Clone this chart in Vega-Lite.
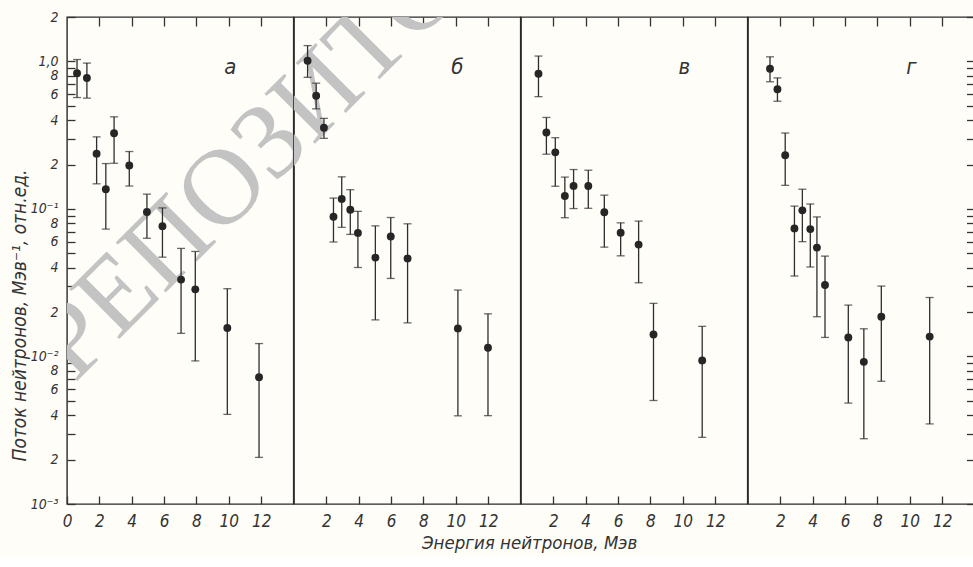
{
  "$schema": "https://vega.github.io/schema/vega-lite/v6.json",
  "background": "#fefdf8",
  "padding": {"left": 9, "top": 9, "right": 0, "bottom": 4},
  "bounds": "flush",
  "spacing": 0,
  "config": {
    "view": {"stroke": "#2a2a2a", "strokeWidth": 1.4},
    "axis": {"grid": false, "domain": false, "labelColor": "#333333", "tickColor": "#333333", "tickWidth": 1.3, "labelFont": "'Liberation Sans Narrow', 'DejaVu Sans Condensed', 'Liberation Sans', sans-serif", "labelFontSize": 17, "labelFontStyle": "italic", "labelFlush": false, "labelOverlap": false}
  },
  "title": {"text": "Энергия нейтронов, Мэв", "orient": "bottom", "anchor": "middle", "frame": "bounds", "dx": 37, "offset": 4, "font": "'Liberation Sans Narrow', 'DejaVu Sans Condensed', 'Liberation Sans', sans-serif", "fontSize": 18.5, "fontStyle": "italic", "fontWeight": "normal", "color": "#333333"},
  "datasets": {
    "pts": [
      {"p": "а", "E": 0.62, "v": 0.832, "lo": 0.569, "hi": 1.03},
      {"p": "а", "E": 1.23, "v": 0.772, "lo": 0.564, "hi": 0.974},
      {"p": "а", "E": 1.83, "v": 0.237, "lo": 0.148, "hi": 0.308},
      {"p": "а", "E": 2.40, "v": 0.136, "lo": 0.073, "hi": 0.203},
      {"p": "а", "E": 2.91, "v": 0.326, "lo": 0.204, "hi": 0.421},
      {"p": "а", "E": 3.85, "v": 0.197, "lo": 0.143, "hi": 0.245},
      {"p": "а", "E": 4.94, "v": 0.0954, "lo": 0.0633, "hi": 0.126},
      {"p": "а", "E": 5.90, "v": 0.0764, "lo": 0.0471, "hi": 0.1016},
      {"p": "а", "E": 7.05, "v": 0.0332, "lo": 0.01435, "hi": 0.054},
      {"p": "а", "E": 7.93, "v": 0.0285, "lo": 0.00933, "hi": 0.0515},
      {"p": "а", "E": 9.91, "v": 0.0156, "lo": 0.00405, "hi": 0.0288},
      {"p": "а", "E": 11.87, "v": 0.00724, "lo": 0.00207, "hi": 0.01223},
      {"p": "б", "E": 0.84, "v": 1.01, "lo": 0.78, "hi": 1.28},
      {"p": "б", "E": 1.37, "v": 0.585, "lo": 0.477, "hi": 0.712},
      {"p": "б", "E": 1.85, "v": 0.355, "lo": 0.301, "hi": 0.411},
      {"p": "б", "E": 2.44, "v": 0.0885, "lo": 0.0597, "hi": 0.1185},
      {"p": "б", "E": 2.95, "v": 0.117, "lo": 0.075, "hi": 0.165},
      {"p": "б", "E": 3.48, "v": 0.0988, "lo": 0.0672, "hi": 0.135},
      {"p": "б", "E": 3.95, "v": 0.0688, "lo": 0.0401, "hi": 0.0963},
      {"p": "б", "E": 5.03, "v": 0.0468, "lo": 0.0177, "hi": 0.0768},
      {"p": "б", "E": 5.98, "v": 0.065, "lo": 0.0338, "hi": 0.0875},
      {"p": "б", "E": 7.02, "v": 0.0462, "lo": 0.0169, "hi": 0.0793},
      {"p": "б", "E": 10.13, "v": 0.0155, "lo": 0.00396, "hi": 0.0282},
      {"p": "б", "E": 11.99, "v": 0.01145, "lo": 0.00397, "hi": 0.01946},
      {"p": "в", "E": 1.08, "v": 0.825, "lo": 0.577, "hi": 1.087},
      {"p": "в", "E": 1.57, "v": 0.33, "lo": 0.235, "hi": 0.417},
      {"p": "в", "E": 2.12, "v": 0.242, "lo": 0.1425, "hi": 0.304},
      {"p": "в", "E": 2.71, "v": 0.1223, "lo": 0.0872, "hi": 0.1644},
      {"p": "в", "E": 3.25, "v": 0.1433, "lo": 0.1006, "hi": 0.185},
      {"p": "в", "E": 4.16, "v": 0.143, "lo": 0.101, "hi": 0.183},
      {"p": "в", "E": 5.15, "v": 0.095, "lo": 0.0551, "hi": 0.124},
      {"p": "в", "E": 6.16, "v": 0.0689, "lo": 0.0481, "hi": 0.0805},
      {"p": "в", "E": 7.27, "v": 0.0573, "lo": 0.0316, "hi": 0.0827},
      {"p": "в", "E": 8.19, "v": 0.0141, "lo": 0.00503, "hi": 0.0229},
      {"p": "в", "E": 11.2, "v": 0.0094, "lo": 0.00283, "hi": 0.016},
      {"p": "г", "E": 1.36, "v": 0.891, "lo": 0.728, "hi": 1.074},
      {"p": "г", "E": 1.82, "v": 0.647, "lo": 0.537, "hi": 0.773},
      {"p": "г", "E": 2.30, "v": 0.231, "lo": 0.1445, "hi": 0.327},
      {"p": "г", "E": 2.87, "v": 0.0738, "lo": 0.0351, "hi": 0.1045},
      {"p": "г", "E": 3.36, "v": 0.0978, "lo": 0.06, "hi": 0.136},
      {"p": "г", "E": 3.85, "v": 0.073, "lo": 0.0404, "hi": 0.108},
      {"p": "г", "E": 4.26, "v": 0.0547, "lo": 0.0186, "hi": 0.0883},
      {"p": "г", "E": 4.76, "v": 0.0305, "lo": 0.01346, "hi": 0.0479},
      {"p": "г", "E": 6.2, "v": 0.01345, "lo": 0.00483, "hi": 0.0223},
      {"p": "г", "E": 7.16, "v": 0.0092, "lo": 0.00277, "hi": 0.0154},
      {"p": "г", "E": 8.24, "v": 0.0186, "lo": 0.00679, "hi": 0.03},
      {"p": "г", "E": 11.23, "v": 0.01364, "lo": 0.00349, "hi": 0.0251}
    ],
    "labels": [{"p": "а"}, {"p": "б"}, {"p": "в"}, {"p": "г"}],
    "wm": [{"t": "РЕПОЗИТОРИЙ"}]
  },
  "hconcat": [
    {
      "width": 226.5, "height": 487,
      "resolve": {"axis": {"x": "independent", "y": "independent"}},
      "layer": [
        {
          "data": {"name": "wm"},
          "mark": {"type": "text", "clip": true, "angle": 315, "font": "Liberation Serif", "fontSize": 108, "color": "#c3c3c3", "align": "center", "baseline": "middle"},
          "encoding": {
            "x": {"datum": 15.95, "type": "quantitative", "scale": {"domain": [0, 14], "nice": false, "zero": false}, "axis": null},
            "y": {"datum": 0.661, "type": "quantitative", "scale": {"type": "log", "domain": [0.001, 2], "nice": false}, "axis": null},
            "text": {"field": "t"}
          }
        },
        {
          "data": {"name": "pts"},
          "transform": [{"filter": "datum.p == 'а'"}],
          "mark": {"type": "errorbar", "color": "#2e2e2e", "thickness": 1.3, "ticks": {"size": 8}},
          "encoding": {
            "x": {"field": "E", "type": "quantitative", "scale": {"domain": [0, 14], "nice": false, "zero": false}, "axis": null},
            "y": {"field": "lo", "type": "quantitative", "scale": {"type": "log", "domain": [0.001, 2], "nice": false}, "axis": null},
            "y2": {"field": "hi"}
          }
        },
        {
          "data": {"name": "pts"},
          "transform": [{"filter": "datum.p == 'а'"}],
          "mark": {"type": "circle", "size": 62, "color": "#262626", "opacity": 1},
          "encoding": {
            "x": {"field": "E", "type": "quantitative", "scale": {"domain": [0, 14], "nice": false, "zero": false},
                  "axis": {"orient": "bottom", "values": [0, 2, 4, 6, 8, 10, 12], "title": null, "tickSize": -8, "labelPadding": 17, "format": "d"}},
            "y": {"field": "v", "type": "quantitative", "scale": {"type": "log", "domain": [0.001, 2], "nice": false},
                  "axis": {"orient": "left", "values": [0.001, 0.002, 0.003, 0.004, 0.005, 0.006, 0.007, 0.008, 0.009, 0.01, 0.02, 0.03, 0.04, 0.05, 0.06, 0.07, 0.08, 0.09, 0.1, 0.2, 0.3, 0.4, 0.5, 0.6, 0.7, 0.8, 0.9, 1, 2],
                    "labelExpr": "abs(datum.value-1)<1e-6 ? '1,0' : abs(datum.value-0.1)<1e-7 ? '10⁻¹' : abs(datum.value-0.01)<1e-8 ? '10⁻²' : abs(datum.value-0.001)<1e-9 ? '10⁻³' : (round(datum.value/pow(10,floor(log(datum.value)/LN10+1e-6))) % 2 == 0 ? '' + round(datum.value/pow(10,floor(log(datum.value)/LN10+1e-6))) : '')",
                    "tickSize": -8, "labelPadding": 17, "labelFontSize": 14,
                    "title": "Поток нейтронов, Мэв⁻¹, отн.ед.", "titleX": -48, "titleY": 298, "titleAngle": 270, "titleAlign": "center", "titleBaseline": "middle",
                    "titleFont": "'Liberation Sans Narrow', 'DejaVu Sans Condensed', 'Liberation Sans', sans-serif", "titleFontSize": 19, "titleFontStyle": "italic", "titleFontWeight": "normal", "titleColor": "#333333"}}
          }
        },
        {
          "data": {"name": "labels"},
          "transform": [{"filter": "datum.p == 'а'"}],
          "mark": {"type": "text", "font": "'Liberation Sans Narrow', 'DejaVu Sans Condensed', 'Liberation Sans', sans-serif", "fontSize": 22, "fontStyle": "italic", "color": "#333333", "align": "center", "baseline": "middle"},
          "encoding": {
            "x": {"datum": 10.1, "type": "quantitative", "scale": {"domain": [0, 14], "nice": false, "zero": false},
                  "axis": {"orient": "top", "values": [2, 4, 6, 8, 10, 12], "labels": false, "title": null, "tickSize": -9}},
            "y": {"datum": 0.92, "type": "quantitative", "scale": {"type": "log", "domain": [0.001, 2], "nice": false}, "axis": null},
            "text": {"field": "p"}
          }
        }
      ]
    },
    {
      "width": 226.5, "height": 487,
      "resolve": {"axis": {"x": "independent", "y": "independent"}},
      "layer": [
        {
          "data": {"name": "wm"},
          "mark": {"type": "text", "clip": true, "angle": 315, "font": "Liberation Serif", "fontSize": 108, "color": "#c3c3c3", "align": "center", "baseline": "middle"},
          "encoding": {
            "x": {"datum": 1.95, "type": "quantitative", "scale": {"domain": [0, 14], "nice": false, "zero": false}, "axis": null},
            "y": {"datum": 0.661, "type": "quantitative", "scale": {"type": "log", "domain": [0.001, 2], "nice": false}, "axis": null},
            "text": {"field": "t"}
          }
        },
        {
          "data": {"name": "pts"},
          "transform": [{"filter": "datum.p == 'б'"}],
          "mark": {"type": "errorbar", "color": "#2e2e2e", "thickness": 1.3, "ticks": {"size": 8}},
          "encoding": {
            "x": {"field": "E", "type": "quantitative", "scale": {"domain": [0, 14], "nice": false, "zero": false}, "axis": null},
            "y": {"field": "lo", "type": "quantitative", "scale": {"type": "log", "domain": [0.001, 2], "nice": false}, "axis": null},
            "y2": {"field": "hi"}
          }
        },
        {
          "data": {"name": "pts"},
          "transform": [{"filter": "datum.p == 'б'"}],
          "mark": {"type": "circle", "size": 62, "color": "#262626", "opacity": 1},
          "encoding": {
            "x": {"field": "E", "type": "quantitative", "scale": {"domain": [0, 14], "nice": false, "zero": false},
                  "axis": {"orient": "bottom", "values": [2, 4, 6, 8, 10, 12], "title": null, "tickSize": -8, "labelPadding": 17, "format": "d"}},
            "y": {"field": "v", "type": "quantitative", "scale": {"type": "log", "domain": [0.001, 2], "nice": false}, "axis": null}
          }
        },
        {
          "data": {"name": "labels"},
          "transform": [{"filter": "datum.p == 'б'"}],
          "mark": {"type": "text", "font": "'Liberation Sans Narrow', 'DejaVu Sans Condensed', 'Liberation Sans', sans-serif", "fontSize": 22, "fontStyle": "italic", "color": "#333333", "align": "center", "baseline": "middle"},
          "encoding": {
            "x": {"datum": 10.1, "type": "quantitative", "scale": {"domain": [0, 14], "nice": false, "zero": false},
                  "axis": {"orient": "top", "values": [2, 4, 6, 8, 10, 12], "labels": false, "title": null, "tickSize": -9}},
            "y": {"datum": 0.92, "type": "quantitative", "scale": {"type": "log", "domain": [0.001, 2], "nice": false}, "axis": null},
            "text": {"field": "p"}
          }
        }
      ]
    },
    {
      "width": 226.5, "height": 487,
      "resolve": {"axis": {"x": "independent", "y": "independent"}},
      "layer": [
        {
          "data": {"name": "pts"},
          "transform": [{"filter": "datum.p == 'в'"}],
          "mark": {"type": "errorbar", "color": "#2e2e2e", "thickness": 1.3, "ticks": {"size": 8}},
          "encoding": {
            "x": {"field": "E", "type": "quantitative", "scale": {"domain": [0, 14], "nice": false, "zero": false}, "axis": null},
            "y": {"field": "lo", "type": "quantitative", "scale": {"type": "log", "domain": [0.001, 2], "nice": false}, "axis": null},
            "y2": {"field": "hi"}
          }
        },
        {
          "data": {"name": "pts"},
          "transform": [{"filter": "datum.p == 'в'"}],
          "mark": {"type": "circle", "size": 62, "color": "#262626", "opacity": 1},
          "encoding": {
            "x": {"field": "E", "type": "quantitative", "scale": {"domain": [0, 14], "nice": false, "zero": false},
                  "axis": {"orient": "bottom", "values": [2, 4, 6, 8, 10, 12], "title": null, "tickSize": -8, "labelPadding": 17, "format": "d"}},
            "y": {"field": "v", "type": "quantitative", "scale": {"type": "log", "domain": [0.001, 2], "nice": false}, "axis": null}
          }
        },
        {
          "data": {"name": "labels"},
          "transform": [{"filter": "datum.p == 'в'"}],
          "mark": {"type": "text", "font": "'Liberation Sans Narrow', 'DejaVu Sans Condensed', 'Liberation Sans', sans-serif", "fontSize": 22, "fontStyle": "italic", "color": "#333333", "align": "center", "baseline": "middle"},
          "encoding": {
            "x": {"datum": 10.1, "type": "quantitative", "scale": {"domain": [0, 14], "nice": false, "zero": false},
                  "axis": {"orient": "top", "values": [2, 4, 6, 8, 10, 12], "labels": false, "title": null, "tickSize": -9}},
            "y": {"datum": 0.92, "type": "quantitative", "scale": {"type": "log", "domain": [0.001, 2], "nice": false}, "axis": null},
            "text": {"field": "p"}
          }
        }
      ]
    },
    {
      "width": 226.5, "height": 487,
      "resolve": {"axis": {"x": "independent", "y": "independent"}},
      "layer": [
        {
          "data": {"name": "pts"},
          "transform": [{"filter": "datum.p == 'г'"}],
          "mark": {"type": "errorbar", "color": "#2e2e2e", "thickness": 1.3, "ticks": {"size": 8}},
          "encoding": {
            "x": {"field": "E", "type": "quantitative", "scale": {"domain": [0, 14], "nice": false, "zero": false}, "axis": null},
            "y": {"field": "lo", "type": "quantitative", "scale": {"type": "log", "domain": [0.001, 2], "nice": false}, "axis": null},
            "y2": {"field": "hi"}
          }
        },
        {
          "data": {"name": "pts"},
          "transform": [{"filter": "datum.p == 'г'"}],
          "mark": {"type": "circle", "size": 62, "color": "#262626", "opacity": 1},
          "encoding": {
            "x": {"field": "E", "type": "quantitative", "scale": {"domain": [0, 14], "nice": false, "zero": false},
                  "axis": {"orient": "bottom", "values": [2, 4, 6, 8, 10, 12], "title": null, "tickSize": -8, "labelPadding": 17, "format": "d"}},
            "y": {"field": "v", "type": "quantitative", "scale": {"type": "log", "domain": [0.001, 2], "nice": false},
                  "axis": {"orient": "right", "values": [0.001, 0.002, 0.003, 0.004, 0.005, 0.006, 0.007, 0.008, 0.009, 0.01, 0.02, 0.03, 0.04, 0.05, 0.06, 0.07, 0.08, 0.09, 0.1, 0.2, 0.3, 0.4, 0.5, 0.6, 0.7, 0.8, 0.9, 1, 2], "labels": false, "title": null, "tickSize": -8}}
          }
        },
        {
          "data": {"name": "labels"},
          "transform": [{"filter": "datum.p == 'г'"}],
          "mark": {"type": "text", "font": "'Liberation Sans Narrow', 'DejaVu Sans Condensed', 'Liberation Sans', sans-serif", "fontSize": 22, "fontStyle": "italic", "color": "#333333", "align": "center", "baseline": "middle"},
          "encoding": {
            "x": {"datum": 10.1, "type": "quantitative", "scale": {"domain": [0, 14], "nice": false, "zero": false},
                  "axis": {"orient": "top", "values": [2, 4, 6, 8, 10, 12], "labels": false, "title": null, "tickSize": -9}},
            "y": {"datum": 0.92, "type": "quantitative", "scale": {"type": "log", "domain": [0.001, 2], "nice": false}, "axis": null},
            "text": {"field": "p"}
          }
        }
      ]
    }
  ]
}
